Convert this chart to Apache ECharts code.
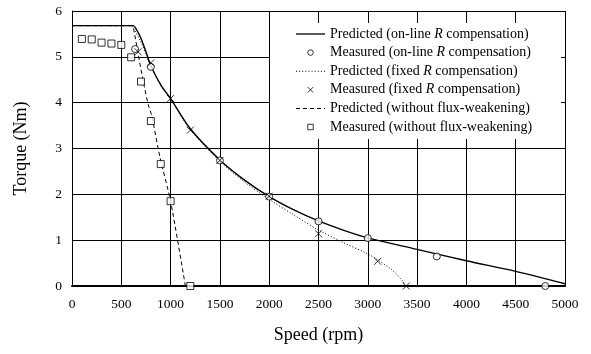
<!DOCTYPE html>
<html>
<head>
<meta charset="utf-8">
<script src="https://cdn.jsdelivr.net/npm/echarts@6/dist/echarts.min.js"></script>
<style>
html,body{margin:0;padding:0;background:#fff;}
#chart{width:591px;height:354px;}
</style>
</head>
<body>
<div id="chart"></div>
<script>
// Series data [speed rpm, torque Nm]
var predictedOnline = [[0,5.68],[620,5.68],[650,5.61],[700,5.4],[760,5.05],[800,4.8],[900,4.39],[1000,4.09],[1200,3.43],[1500,2.75],[1750,2.31],[2000,1.95],[2250,1.66],[2500,1.42],[2750,1.22],[3000,1.05],[3500,0.8],[4000,0.55],[4500,0.32],[5000,0.05]];
var measuredOnline = [[640,5.17],[800,4.78],[1500,2.74],[2000,1.95],[2500,1.41],[3000,1.045],[3700,0.645],[4800,0]];
var predictedFixed = [[0,5.68],[600,5.68],[630,5.6],[690,5.36],[760,5.02],[800,4.8],[900,4.38],[1000,4.07],[1200,3.41],[1500,2.72],[1750,2.27],[2000,1.89],[2250,1.55],[2500,1.22],[2750,0.95],[3000,0.7],[3100,0.57],[3250,0.34],[3350,0.12],[3385,0]];
var measuredFixed = [[670,5.11],[800,4.87],[1000,4.09],[1200,3.4],[1500,2.74],[2000,1.96],[2500,1.14],[3100,0.54],[3390,0]];
var predictedNoFW = [[0,5.68],[605,5.68],[625,5.6],[673,5.04],[724,4.45],[774,3.95],[808,3.72],[893,2.8],[1000,1.85],[1150,0]];
var measuredNoFW = [[100,5.39],[200,5.38],[300,5.31],[400,5.29],[500,5.26],[600,4.99],[700,4.46],[800,3.6],[900,2.66],[1000,1.85],[1200,0]];

var legendNames = [
  'Predicted (on-line {i|R} compensation)',
  'Measured (on-line {i|R} compensation)',
  'Predicted (fixed {i|R} compensation)',
  'Measured (fixed {i|R} compensation)',
  'Predicted (without flux-weakening)',
  'Measured (without flux-weakening)'
];
var xTicks = {min:0, max:5000, interval:500};
var yTicks = {min:0, max:6, interval:1};

var FONT = 'Liberation Serif';
var crossPath = 'path://M0,0L10,10M10,0L0,10';
var squarePath = 'path://M0,0L10,0L10,10L0,10Z';

// legend line icons built as thin filled rectangles (solid / dotted / dashed)
function linePath(dash, gap, total, h){
  var p = '';
  for (var x = 0; x < total; x += dash + gap) {
    var e = Math.min(x + dash, total);
    p += 'M' + x + ',0L' + e + ',0L' + e + ',' + h + 'L' + x + ',' + h + 'Z';
  }
  return 'path://' + p;
}
var solidIcon = 'path://M0,0L29,0L29,1.3L0,1.3Z';
var dotIcon = linePath(1, 2, 29, 1);
var dashIcon = linePath(4, 3, 29, 1);

var chart = echarts.init(document.getElementById('chart'), null, {renderer:'canvas'});
chart.setOption({
  backgroundColor:'#fff',
  animation:false,
  textStyle:{fontFamily:FONT,color:'#000'},
  grid:{left:72,right:26,top:11,bottom:68},
  legend:{
    orient:'vertical',
    left:270, top:23,
    backgroundColor:'#fff',
    padding:[4,29,5,26],
    itemWidth:29, itemHeight:5.5, itemGap:4.6,
    symbolKeepAspect:true,
    data:[
      {name:legendNames[0],icon:solidIcon,itemStyle:{color:'#000',borderWidth:0}},
      {name:legendNames[1],icon:'circle',itemStyle:{color:'#fff',borderColor:'#000',borderWidth:1}},
      {name:legendNames[2],icon:dotIcon,itemStyle:{color:'#000',borderWidth:0}},
      {name:legendNames[3],icon:crossPath,itemStyle:{color:'rgba(0,0,0,0)',borderColor:'#000',borderWidth:1}},
      {name:legendNames[4],icon:dashIcon,itemStyle:{color:'#000',borderWidth:0}},
      {name:legendNames[5],icon:squarePath,itemStyle:{color:'#fff',borderColor:'#000',borderWidth:1}}
    ],
    textStyle:{fontFamily:FONT,fontSize:14,color:'#000',
      rich:{i:{fontFamily:FONT,fontStyle:'italic',fontSize:14,color:'#000'}}},
    formatter:function(n){return n;}
  },
  xAxis:{
    type:'value', min:xTicks.min, max:xTicks.max, interval:xTicks.interval,
    name:'Speed (rpm)', nameLocation:'middle', nameGap:40,
    nameTextStyle:{fontFamily:FONT,fontSize:18,color:'#000'},
    axisLine:{show:true,onZero:false,lineStyle:{color:'#000',width:2}},
    axisTick:{show:false},
    axisLabel:{fontFamily:FONT,fontSize:13.5,color:'#000',margin:11,formatter:function(v){return String(v);}},
    splitLine:{show:true,lineStyle:{color:'#000',width:1}}
  },
  yAxis:{
    type:'value', min:yTicks.min, max:yTicks.max, interval:yTicks.interval,
    name:'Torque (Nm)', nameLocation:'middle', nameGap:42,
    nameTextStyle:{fontFamily:FONT,fontSize:18,color:'#000'},
    axisLine:{show:true,lineStyle:{color:'#000',width:1}},
    axisTick:{show:false},
    axisLabel:{fontFamily:FONT,fontSize:13.5,color:'#000',margin:10},
    splitLine:{show:true,lineStyle:{color:'#000',width:1}}
  },
  series:[
    {name:legendNames[0],type:'line',data:predictedOnline,symbol:'none',smooth:0.3,
      lineStyle:{color:'#000',width:1.4,type:'solid'},itemStyle:{color:'#000'},z:3},
    {name:legendNames[1],type:'scatter',data:measuredOnline,symbol:'circle',symbolSize:7,
      itemStyle:{color:'#fff',borderColor:'#000',borderWidth:1},z:4},
    {name:legendNames[2],type:'line',data:predictedFixed,symbol:'none',smooth:0.3,
      lineStyle:{color:'#000',width:1,type:[1,2]},itemStyle:{color:'#000'},z:3},
    {name:legendNames[3],type:'scatter',data:measuredFixed,symbol:crossPath,symbolSize:7,
      itemStyle:{color:'rgba(0,0,0,0)',borderColor:'#000',borderWidth:1},z:5},
    {name:legendNames[4],type:'line',data:predictedNoFW,symbol:'none',smooth:0.2,
      lineStyle:{color:'#000',width:1,type:[4,3]},itemStyle:{color:'#000'},z:3},
    {name:legendNames[5],type:'scatter',data:measuredNoFW,symbol:squarePath,symbolSize:7,
      itemStyle:{color:'#fff',borderColor:'#000',borderWidth:1},z:4}
  ]
});
</script>
</body>
</html>
